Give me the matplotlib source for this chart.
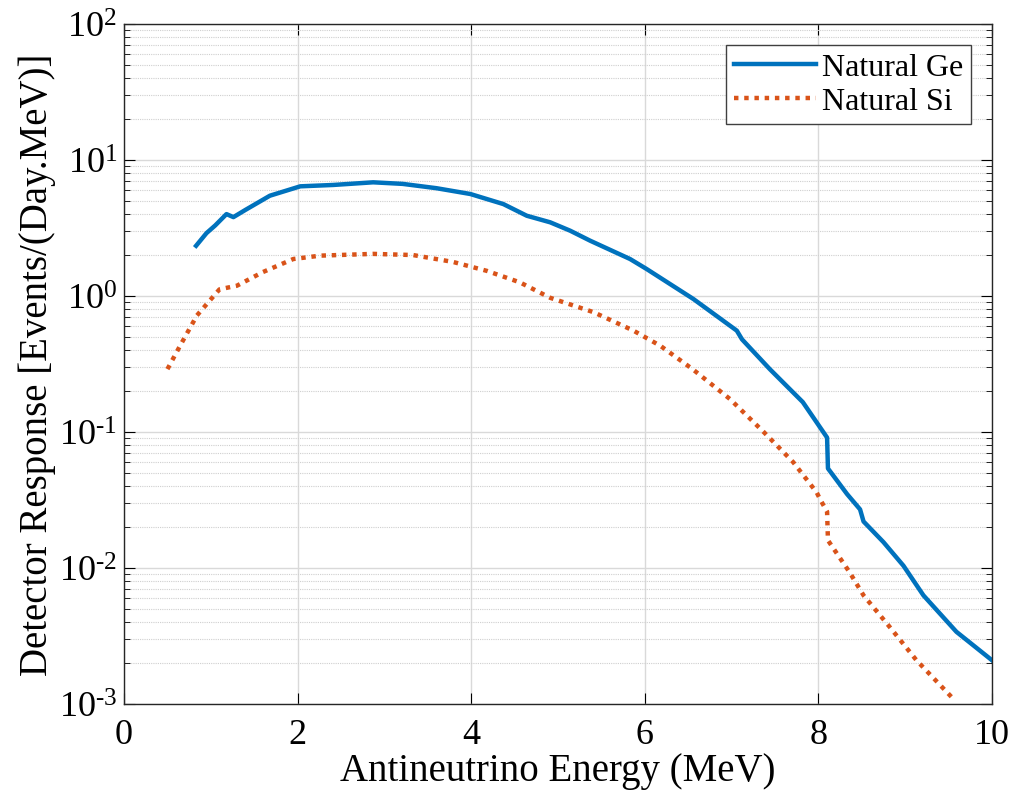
import matplotlib
matplotlib.use("Agg")
from matplotlib import pyplot as plt
from matplotlib.ticker import LogLocator, NullFormatter, FuncFormatter
import numpy as np

plt.rcParams['font.family'] = ['Liberation Serif', 'DejaVu Serif']
plt.rcParams['mathtext.fontset'] = 'custom'
plt.rcParams['mathtext.rm'] = 'Liberation Serif'

# Natural Ge response
ge_energy = [0.83, 0.95, 1.05, 1.18, 1.26, 1.40, 1.68, 2.03, 2.41, 2.87, 3.21, 3.60,
             3.99, 4.37, 4.64, 4.91, 5.14, 5.37, 5.83, 6.02, 6.56, 7.06, 7.12,
             7.44, 7.82, 8.10, 8.11, 8.33, 8.48, 8.52, 8.75, 8.98, 9.21, 9.59, 10.0]
ge_resp = [2.34, 2.9, 3.3, 4.0, 3.8, 4.3, 5.46, 6.4, 6.55, 6.85, 6.67, 6.2,
           5.62, 4.74, 3.89, 3.48, 3.02, 2.55, 1.87, 1.58, 0.95, 0.556, 0.48,
           0.29, 0.166, 0.091, 0.054, 0.035, 0.027, 0.022, 0.0155, 0.0104, 0.0063, 0.0034, 0.0021]

# Natural Si response
si_energy = [0.50, 0.645, 0.84, 1.10, 1.30, 1.60, 1.95, 2.26, 2.87, 3.33, 3.79, 4.18,
             4.56, 4.91, 5.41, 5.87, 6.18, 6.55, 6.98, 7.37, 7.71, 7.98, 8.02,
             8.10, 8.11, 8.36, 8.52, 8.82, 9.13, 9.55]
si_resp = [0.29, 0.43, 0.72, 1.12, 1.19, 1.5, 1.87, 1.98, 2.04, 2.0, 1.78, 1.53,
           1.26, 0.97, 0.76, 0.556, 0.43, 0.29, 0.175, 0.1, 0.06, 0.036, 0.032,
           0.026, 0.016, 0.0093, 0.0063, 0.0037, 0.0021, 0.0011]


def pow10(v, pos):
    e = int(round(np.log10(v)))
    if e < 0:
        return r'$\mathregular{10^{\text{-}%d}}$' % (-e)
    return r'$\mathregular{10^{%d}}$' % e


fig = plt.figure(figsize=(10.11, 8.04), dpi=100)
ax = fig.add_axes([0.1227, 0.123, 0.8585, 0.846])

ax.plot(ge_energy, ge_resp, color='#0072BD', lw=3.2, label='Natural Ge')
ax.plot(si_energy, si_resp, color='#D95319', lw=3.2, dashes=(1.0, 1.3),
        dash_capstyle='butt', label='Natural Si')

ax.set_yscale('log')
ax.set_xlim(0, 10)
ax.set_ylim(1e-3, 1e2)
ax.set_xticks([0, 2, 4, 6, 8, 10])
ax.yaxis.set_major_locator(LogLocator(base=10, numticks=10))
ax.yaxis.set_major_formatter(FuncFormatter(pow10))
ax.yaxis.set_minor_locator(LogLocator(base=10, subs=np.arange(2, 10), numticks=10))
ax.yaxis.set_minor_formatter(NullFormatter())

ax.grid(True, which='major', color='#d9d9d9', lw=1.0)
ax.grid(True, which='minor', axis='y', color='#cfcfcf', lw=0.8, ls=(0, (1, 1)))
ax.set_axisbelow(True)

ax.tick_params(which='both', direction='in', top=True, right=True, labelsize=26)
ax.tick_params(axis='x', pad=10)
ax.tick_params(axis='y', pad=5)
ax.tick_params(which='major', length=8)
ax.tick_params(which='minor', length=4)
for s in ax.spines.values():
    s.set_linewidth(1.0)
    s.set_color('#262626')

ax.set_xlabel('Antineutrino Energy (MeV)', fontsize=28, labelpad=1)
ax.set_ylabel('Detector Response [Events/(Day.MeV)]', fontsize=28, labelpad=2)

leg = ax.legend(loc='upper right', fontsize=23, handlelength=2.55, handletextpad=0.2,
                fancybox=False, framealpha=1, edgecolor='#404040',
                borderpad=0.25, labelspacing=0.15, borderaxespad=0.65)
leg.get_frame().set_linewidth(1.0)

fig.savefig('out.png', dpi=100)
